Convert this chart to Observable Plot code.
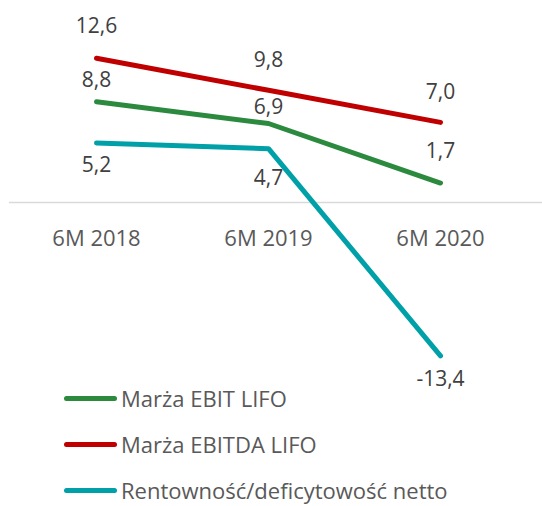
<!DOCTYPE html>
<html><head><meta charset="utf-8">
<script src="https://cdn.jsdelivr.net/npm/d3@7"></script>
<script src="https://cdn.jsdelivr.net/npm/@observablehq/plot@0.6"></script>
<style>
body{margin:0;background:#fff;font-family:"Open Sans",sans-serif;overflow:hidden;}
#legend{margin-top:-25px;}
.item{height:46px;display:flex;align-items:center;padding-left:64px;font-size:22px;line-height:26px;color:#595959;}
.sw{width:53px;height:5px;border-radius:3px;margin-right:4px;flex:none;}
</style></head><body>
<div id="chart"></div>
<div id="legend"></div>
<script>
const categories = ["6M 2018", "6M 2019", "6M 2020"];
const seriesNames = ["Marża EBIT LIFO", "Marża EBITDA LIFO", "Rentowność/deficytowość netto"];
const ebit = [8.8, 6.9, 1.7];
const ebitda = [12.6, 9.8, 7.0];
const netto = [5.2, 4.7, -13.4];

const colors = ["#2b8a3e", "#c00000", "#00a0a8"];
const labelDy = [[-21, -16, -32], [-32, -30, -30], [22, 30, 23]];

const seriesValues = [ebit, ebitda, netto];
const rows = [];
seriesValues.forEach((vals, s) => vals.forEach((v, i) => rows.push({series: seriesNames[s], cat: categories[i], value: v, dy: labelDy[s][i]})));

const fmt = v => v.toFixed(1).replace(".", ",");

const plot = Plot.plot({
  width: 542, height: 400,
  marginLeft: 9, marginRight: 0, marginTop: 0, marginBottom: 0,
  x: {type: "point", domain: categories, range: [95, 440], padding: 0, axis: null},
  y: {domain: [-15, 15], range: [373.75, 30.25], axis: null},
  color: {domain: seriesNames, range: colors},
  style: {fontFamily: "Open Sans, sans-serif"},
  marks: [
    Plot.ruleY([0], {stroke: "#d9d9d9", strokeWidth: 1.5}),
    Plot.text(categories, {x: d => d, y: 0, dy: 36, text: d => d, fontSize: 22, fill: "#595959"}),
    Plot.line(rows, {x: "cat", y: "value", z: "series", stroke: "series", strokeWidth: 5, strokeLinecap: "round", strokeLinejoin: "round"}),
    ...rows.map(r => Plot.text([r], {x: "cat", y: "value", text: d => fmt(d.value), dy: r.dy, fontSize: 21, fill: "#404040"}))
  ]
});
document.getElementById("chart").appendChild(plot);

const legend = document.getElementById("legend");
seriesNames.forEach((name, i) => {
  const item = document.createElement("div");
  item.className = "item";
  const sw = document.createElement("span");
  sw.className = "sw";
  sw.style.background = colors[i];
  const t = document.createElement("span");
  t.textContent = name;
  item.appendChild(sw); item.appendChild(t);
  legend.appendChild(item);
});
</script>
</body></html>
